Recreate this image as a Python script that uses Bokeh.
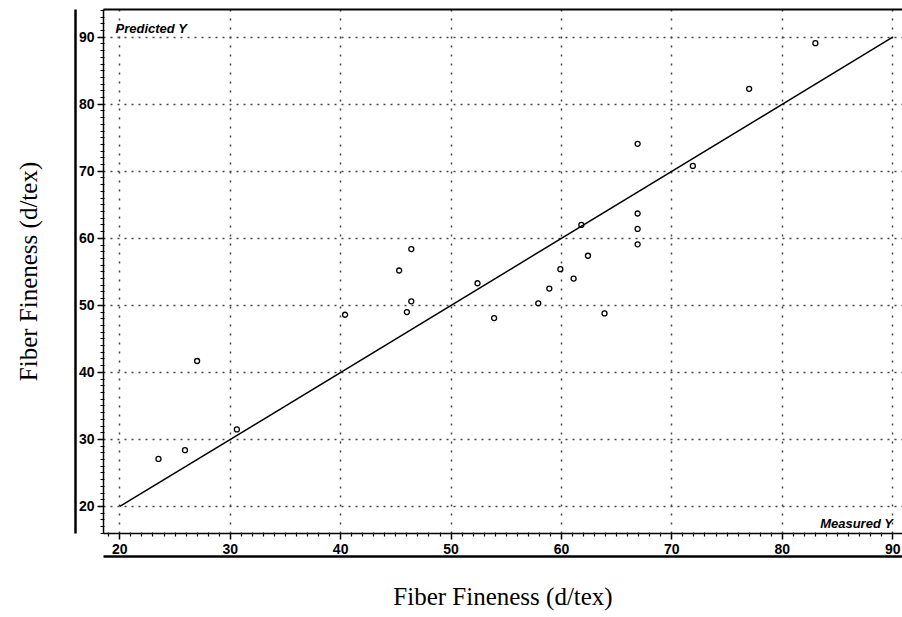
from bokeh.plotting import figure
from bokeh.models import LinearAxis, FixedTicker, Range1d, Label
from bokeh.embed import file_html
from bokeh.resources import INLINE

# ---- data ----
measured = [23.5, 25.9, 27.0, 30.6, 40.4, 45.3, 46.4, 46.4, 46.0, 52.4, 53.9,
            57.9, 58.9, 59.9, 61.1, 61.8, 62.4, 63.9, 66.9, 66.9, 66.9, 66.9,
            71.9, 77.0, 83.0]
predicted = [27.1, 28.4, 41.7, 31.5, 48.6, 55.2, 58.4, 50.6, 49.0, 53.3, 48.1,
             50.3, 52.5, 55.4, 54.0, 62.0, 57.4, 48.8, 63.7, 61.4, 59.1, 74.1,
             70.8, 82.3, 89.1]
fit_x = [20, 90]
fit_y = [20, 90]
TICKS = [20, 30, 40, 50, 60, 70, 80, 90]
MINOR = [v for v in range(16, 95) if v % 10]
X_TITLE = "Fiber Fineness (d/tex)"
Y_TITLE = "Fiber Fineness (d/tex)"

X_START, X_END = 18.52, 90.89
Y_START, Y_END = 15.97, 94.13

p = figure(width=902, height=617, output_backend="svg", toolbar_location=None,
           x_range=Range1d(X_START, X_END), y_range=Range1d(Y_START, Y_END),
           min_border_left=103, min_border_right=0, min_border_top=9,
           min_border_bottom=84)
p.outline_line_color = None
p.background_fill_color = "white"
p.border_fill_color = "white"

TICK_FONT = "Liberation Sans"

for ax in (p.xaxis[0], p.yaxis[0]):
    ax.ticker = FixedTicker(ticks=TICKS, minor_ticks=MINOR)
    ax.axis_line_width = 1.5
    ax.axis_line_color = "black"
    ax.major_tick_line_color = "black"
    ax.major_tick_line_width = 1.5
    ax.major_tick_out = 6
    ax.major_tick_in = 0
    ax.minor_tick_line_color = "black"
    ax.minor_tick_line_width = 1.2
    ax.minor_tick_out = 3
    ax.minor_tick_in = 1
    ax.major_label_text_font = TICK_FONT
    ax.major_label_text_font_style = "bold"
    ax.major_label_text_font_size = "14px"
    ax.major_label_text_color = "black"
p.xaxis[0].major_label_standoff = 4
p.yaxis[0].major_label_standoff = 3

# outer box lines + titles
outer_x = LinearAxis(ticker=FixedTicker(ticks=[]), axis_label=X_TITLE)
outer_y = LinearAxis(ticker=FixedTicker(ticks=[]), axis_label=Y_TITLE)
for ax, so in ((outer_x, 26), (outer_y, 34)):
    ax.axis_line_width = 2.5
    ax.axis_line_color = "black"
    ax.major_tick_line_color = None
    ax.minor_tick_line_color = None
    ax.major_label_text_font_size = "0px"
    ax.axis_label_text_font = "Liberation Serif"
    ax.axis_label_text_font_style = "normal"
    ax.axis_label_text_font_size = "25px"
    ax.axis_label_text_color = "black"
    ax.axis_label_standoff = so
p.add_layout(outer_x, "below")
p.add_layout(outer_y, "left")

top = LinearAxis(ticker=FixedTicker(ticks=[]))
top.axis_line_width = 2
top.axis_line_color = "black"
top.major_tick_line_color = None
top.minor_tick_line_color = None
top.major_label_text_font_size = "0px"
p.add_layout(top, "above")

for g, dash in ((p.xgrid[0], "2 7"), (p.ygrid[0], "2 5")):
    g.grid_line_color = "#444444"
    g.grid_line_width = 1.5
    g.grid_line_dash = dash

p.line(fit_x, fit_y, line_color="black", line_width=1.5)
p.scatter(measured, predicted, size=5, fill_color=None, line_color="black",
          line_width=1.3)

p.add_layout(Label(x=X_START + 1.09, y=Y_END - 2.9, text="Predicted Y",
                   text_font=TICK_FONT, text_font_style="bold italic",
                   text_font_size="13px", text_color="black",
                   text_baseline="alphabetic", text_align="left"))
p.add_layout(Label(x=X_END - 0.85, y=Y_START + 1.5, text="Measured Y",
                   text_font=TICK_FONT, text_font_style="bold italic",
                   text_font_size="13px", text_color="black",
                   text_baseline="alphabetic", text_align="right"))

open("out.html", "w").write(file_html(p, INLINE))
